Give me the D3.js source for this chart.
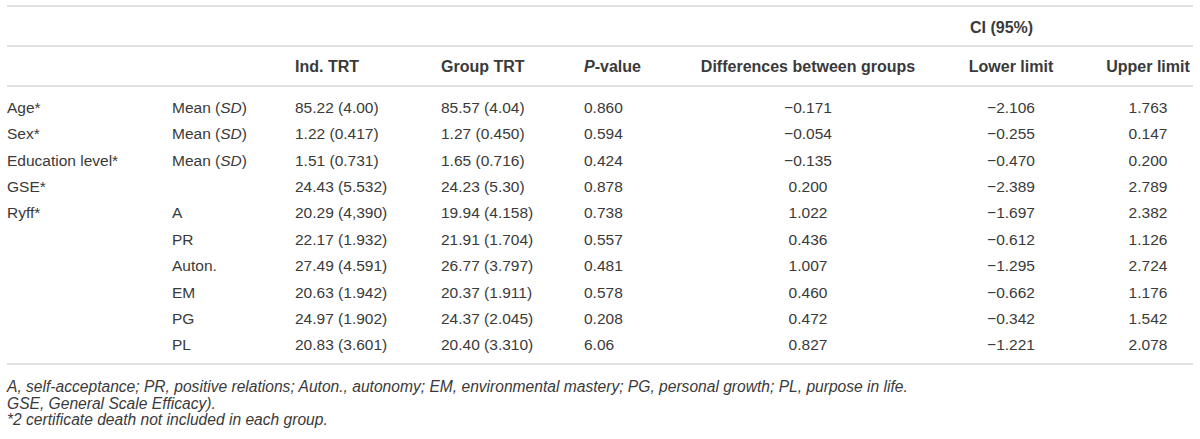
<!DOCTYPE html>
<html>
<head>
<meta charset="utf-8">
<script src="https://cdn.jsdelivr.net/npm/d3@7"></script>
<style>
	body { margin: 0; background: #fff; }
	text { font-family: "Liberation Sans", Arial, sans-serif; fill: #3a3a3a; }
</style>
</head>
<body>
<div id="divTable"></div>
<script>
// table content
var groupHeader = "CI (95%)";
var colHeaders = ["", "", "Ind. TRT", "Group TRT", "P-value", "Differences between groups", "Lower limit", "Upper limit"];
var variables = ["Age*", "Sex*", "Education level*", "GSE*", "Ryff*", "", "", "", "", ""];
var subLabels = ["Mean (SD)", "Mean (SD)", "Mean (SD)", "", "A", "PR", "Auton.", "EM", "PG", "PL"];
var indTRT = ["85.22 (4.00)", "1.22 (0.417)", "1.51 (0.731)", "24.43 (5.532)", "20.29 (4,390)", "22.17 (1.932)", "27.49 (4.591)", "20.63 (1.942)", "24.97 (1.902)", "20.83 (3.601)"];
var groupTRT = ["85.57 (4.04)", "1.27 (0.450)", "1.65 (0.716)", "24.23 (5.30)", "19.94 (4.158)", "21.91 (1.704)", "26.77 (3.797)", "20.37 (1.911)", "24.37 (2.045)", "20.40 (3.310)"];
var pValues = ["0.860", "0.594", "0.424", "0.878", "0.738", "0.557", "0.481", "0.578", "0.208", "6.06"];
var diffs = ["\u22120.171", "\u22120.054", "\u22120.135", "0.200", "1.022", "0.436", "1.007", "0.460", "0.472", "0.827"];
var lowerLimits = ["\u22122.106", "\u22120.255", "\u22120.470", "\u22122.389", "\u22121.697", "\u22120.612", "\u22121.295", "\u22120.662", "\u22120.342", "\u22121.221"];
var upperLimits = ["1.763", "0.147", "0.200", "2.789", "2.382", "1.126", "2.724", "1.176", "1.542", "2.078"];
var footnotes = [
	"A, self-acceptance; PR, positive relations; Auton., autonomy; EM, environmental mastery; PG, personal growth; PL, purpose in life.",
	"GSE, General Scale Efficacy).",
	"*2 certificate death not included in each group."
];

var ctx = { width: 1200, height: 439 };

var svg = d3.select("#divTable")
	.append("svg")
	.attr("width", ctx.width)
	.attr("height", ctx.height);

// column anchors: [x, text-anchor]
var cols = [
	[7, "start"], [172, "start"], [295, "start"], [441, "start"],
	[584, "start"], [808, "middle"], [1011, "middle"], [1148, "middle"]
];

var yRow = d3.scalePoint()
	.domain(d3.range(variables.length))
	.range([107.5, 345]);

// rules
var rules = [6, 46, 86, 364];
svg.selectAll("line.rule")
	.data(rules)
	.join("line")
	.attr("class", "rule")
	.attr("x1", 7)
	.attr("x2", 1193)
	.attr("y1", (d) => d)
	.attr("y2", (d) => d)
	.attr("stroke", "#e1e1e1")
	.attr("stroke-width", 2);

// CI group header
svg.append("text")
	.attr("x", 970)
	.attr("y", 27)
	.attr("dy", "0.35em")
	.style("font-size", "16px")
	.style("font-weight", "bold")
	.text(groupHeader);

// column headers
var hdr = svg.selectAll("text.hdr")
	.data(colHeaders.map((d, i) => ({ t: d, c: cols[i] })).filter((d) => d.t != ""))
	.join("text")
	.attr("class", "hdr")
	.attr("x", (d) => d.c[0])
	.attr("y", 66)
	.attr("dy", "0.35em")
	.attr("text-anchor", (d) => d.c[1])
	.style("font-size", "16px")
	.style("font-weight", "bold");

hdr.each(function (d) {
	var el = d3.select(this);
	if (d.t == "P-value") {
		el.append("tspan").style("font-style", "italic").text("P");
		el.append("tspan").text("-value");
	} else {
		el.text(d.t);
	}
});

// body cells
var columns = [variables, subLabels, indTRT, groupTRT, pValues, diffs, lowerLimits, upperLimits];
var cells = [];
columns.forEach(function (col, c) {
	col.forEach(function (v, r) {
		if (v != "") cells.push({ t: v, r: r, c: c });
	});
});

svg.selectAll("text.cell")
	.data(cells)
	.join("text")
	.attr("class", "cell")
	.attr("x", (d) => cols[d.c][0])
	.attr("y", (d) => yRow(d.r))
	.attr("dy", "0.35em")
	.attr("text-anchor", (d) => cols[d.c][1])
	.style("font-size", "15.5px")
	.each(function (d) {
		var el = d3.select(this);
		var m = d.t.match(/^(.*)\((SD)\)$/);
		if (m) {
			el.append("tspan").text(m[1] + "(");
			el.append("tspan").style("font-style", "italic").text("SD");
			el.append("tspan").text(")");
		} else {
			el.text(d.t);
		}
	});

// footnotes
svg.selectAll("text.foot")
	.data(footnotes)
	.join("text")
	.attr("class", "foot")
	.attr("x", 7)
	.attr("y", (d, i) => 387 + i * 16.5)
	.attr("dy", "0.35em")
	.style("font-size", "15.6px")
	.style("font-style", "italic")
	.text((d) => d);
</script>
</body>
</html>
